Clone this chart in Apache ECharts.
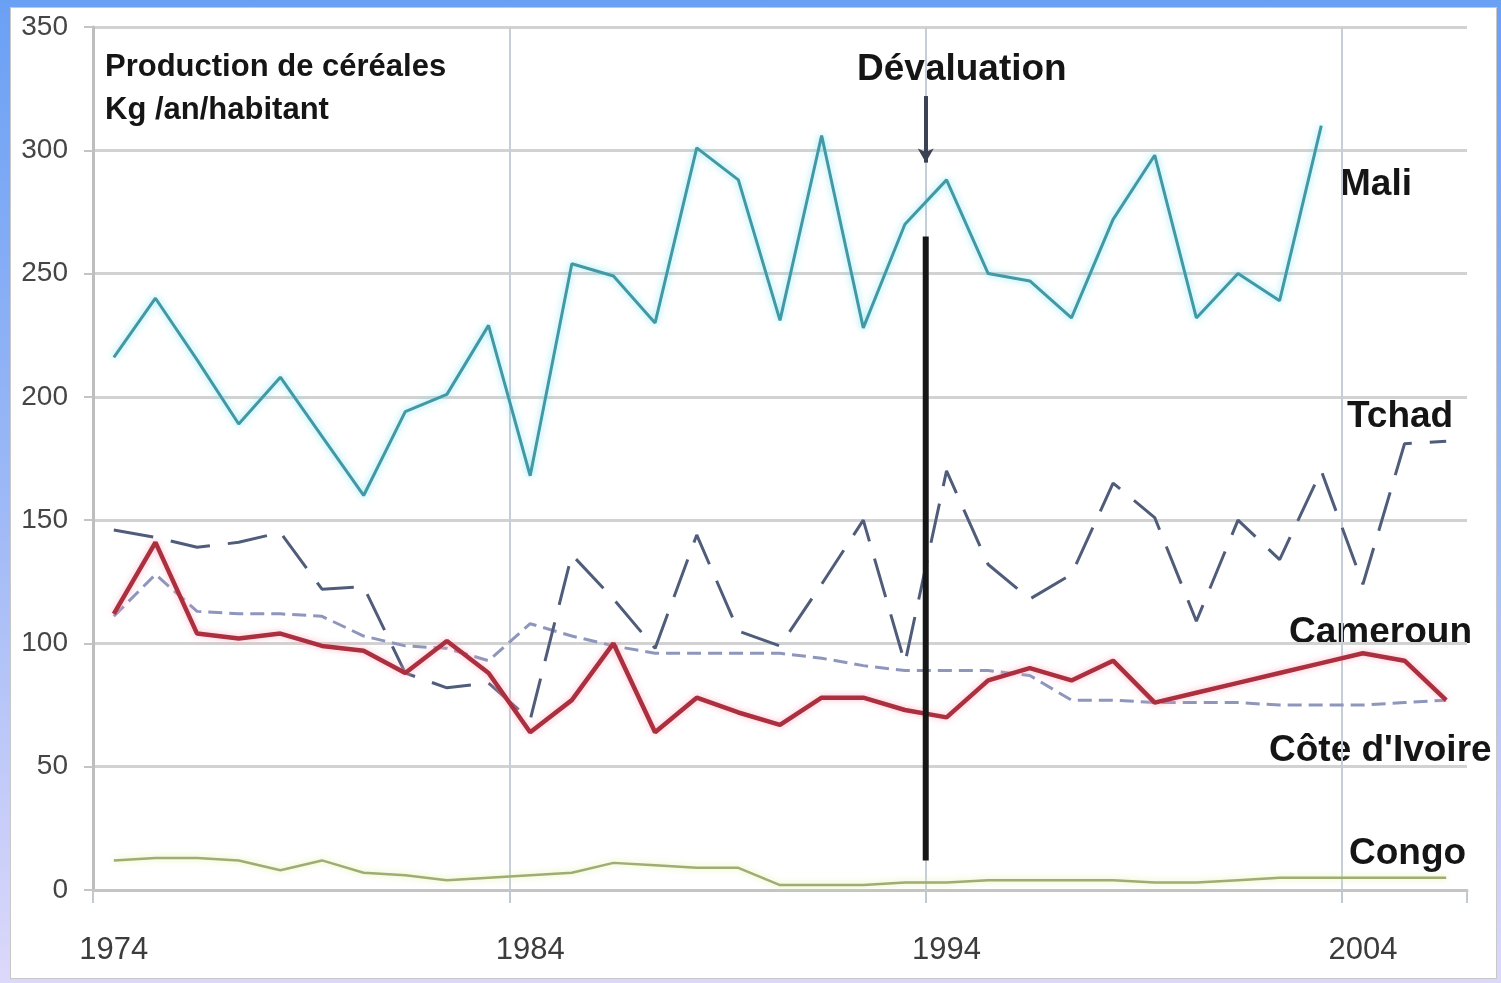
<!DOCTYPE html>
<html>
<head>
<meta charset="utf-8">
<script src="https://cdn.jsdelivr.net/npm/echarts@6/dist/echarts.min.js"></script>
<style>
  html, body { margin: 0; padding: 0; width: 1501px; height: 983px; overflow: hidden;
    background: linear-gradient(to bottom, #6aa0f4 0%, #9cb8f6 50%, #dcd8fa 100%); }
  #frame { position: absolute; left: 10px; top: 7px; width: 1485px; height: 970px;
    background: #ffffff; border: 1px solid #c8c8c8; }
  #chart { position: absolute; left: 0; top: 0; width: 1501px; height: 983px; }
</style>
</head>
<body>
<div id="frame"></div>
<div id="chart"></div>
<script>
// ---- data ----
const years = [1974,1975,1976,1977,1978,1979,1980,1981,1982,1983,1984,1985,1986,1987,1988,1989,1990,
  1991,1992,1993,1994,1995,1996,1997,1998,1999,2000,2001,2002,2003,2004,2005,2006];
const mali = [216,240,215,189,208,184,160,194,201,229,168,254,249,230,301,288,231,306,228,270,288,250,247,232,272,298,232,250,239,310,null,null,null];
const tchad = [146,143,139,141,145,122,123,88,82,84,69,136,118,98,144,105,99,124,150,92,170,132,118,128,165,151,109,150,134,170,124,181,182];
const cameroun = [112,141,104,102,104,99,97,88,101,88,64,77,100,64,78,72,67,78,78,73,70,85,90,85,93,76,80,84,88,92,96,93,77];
const coteIvoire = [111,128,113,112,112,111,103,99,98,93,108,103,99,96,96,96,96,94,91,89,89,89,87,77,77,76,76,76,75,75,75,76,77];
const congo = [12,13,13,12,8,12,7,6,4,5,6,7,11,10,9,9,2,2,2,3,3,4,4,4,4,3,3,4,5,5,5,5,5];
const yTicks = [0,50,100,150,200,250,300,350];
// devaluation marker: boundary before 1994 (position on hidden value axis), top/bottom values
const devalPos = 19.5;
const devalLine = [265, 12];
const devalArrow = [322, 295];

const chart = echarts.init(document.getElementById('chart'), null, { renderer: 'canvas' });
const labelFont = 'Liberation Sans, Arial, sans-serif';

function lbl(text, x, y, size) {
  return { type: 'text', x: x, y: y,
    style: { text: text, font: 'bold ' + size + 'px ' + labelFont, fill: '#151515',
      textAlign: 'left', textVerticalAlign: 'middle' } };
}

const option = {
  animation: false,
  backgroundColor: 'transparent',
  grid: { left: 93, right: 34, top: 27, bottom: 93, containLabel: false },
  xAxis: [{
    type: 'category',
    data: years,
    boundaryGap: true,
    axisLine: { show: true, lineStyle: { color: '#c4c4c4', width: 3 } },
    axisTick: { show: true, interval: 9, length: 13, lineStyle: { color: '#c0c8d0', width: 2 } },
    axisLabel: { interval: 9, margin: 45, color: '#3c3c3c', fontSize: 31, fontFamily: labelFont },
    splitLine: { show: true, interval: 9, showMinLine: false, showMaxLine: false,
      lineStyle: { color: '#c6ced8', width: 2 } }
  }, {
    type: 'value', min: -0.5, max: 32.5, show: false
  }],
  yAxis: {
    type: 'value', min: yTicks[0], max: yTicks[yTicks.length - 1], interval: 50,
    axisLine: { show: true, onZero: false, lineStyle: { color: '#bdbdbd', width: 3 } },
    axisTick: { show: true, length: 9, lineStyle: { color: '#c4c4c4', width: 2 } },
    axisLabel: { margin: 25, color: '#454545', fontSize: 28, fontFamily: labelFont },
    splitLine: { show: true, lineStyle: { color: '#d2d2d2', width: 3 } }
  },
  series: [
    { name: 'Congo', type: 'line', data: congo, symbol: 'none',
      lineStyle: { color: '#9fac74', width: 2.5, shadowColor: 'rgba(220,240,150,0.9)', shadowBlur: 6 } },
    { name: "Côte d'Ivoire", type: 'line', data: coteIvoire, symbol: 'none',
      lineStyle: { color: '#8e96bc', width: 3, type: [14, 7] } },
    { name: 'Tchad', type: 'line', data: tchad, symbol: 'none',
      lineStyle: { color: '#4f5c7a', width: 3, type: [40, 18] } },
    { name: 'Cameroun', type: 'line', data: cameroun, symbol: 'none',
      lineStyle: { color: '#aa3040', width: 4.5, shadowColor: 'rgba(255,170,190,0.8)', shadowBlur: 6 } },
    { name: 'Mali', type: 'line', data: mali, symbol: 'none', connectNulls: false,
      lineStyle: { color: '#4298a4', width: 3, shadowColor: 'rgba(110,225,240,0.8)', shadowBlur: 7 } },
    { name: 'Dévaluation', type: 'line', xAxisIndex: 1, symbol: 'none',
      data: [[devalPos, devalLine[0]], [devalPos, devalLine[1]]],
      lineStyle: { color: '#161616', width: 6 },
      markLine: {
        silent: true, symbol: ['none', 'arrow'], symbolSize: [12, 14], label: { show: false },
        lineStyle: { color: '#3a4254', width: 4, type: 'solid' },
        data: [[{ coord: [devalPos, devalArrow[0]] }, { coord: [devalPos, devalArrow[1]] }]]
      }
    }
  ],
  graphic: [
    lbl('Production de céréales', 105, 67, 31),
    lbl('Kg /an/habitant', 105, 110, 31),
    lbl('Dévaluation', 857, 70, 37),
    lbl('Mali', 1340, 185, 37),
    lbl('Tchad', 1347, 417, 37),
    lbl('Cameroun', 1289, 633, 37),
    lbl("Côte d'Ivoire", 1269, 751, 37),
    lbl('Congo', 1349, 854, 37)
  ]
};
chart.setOption(option);
</script>
</body>
</html>
